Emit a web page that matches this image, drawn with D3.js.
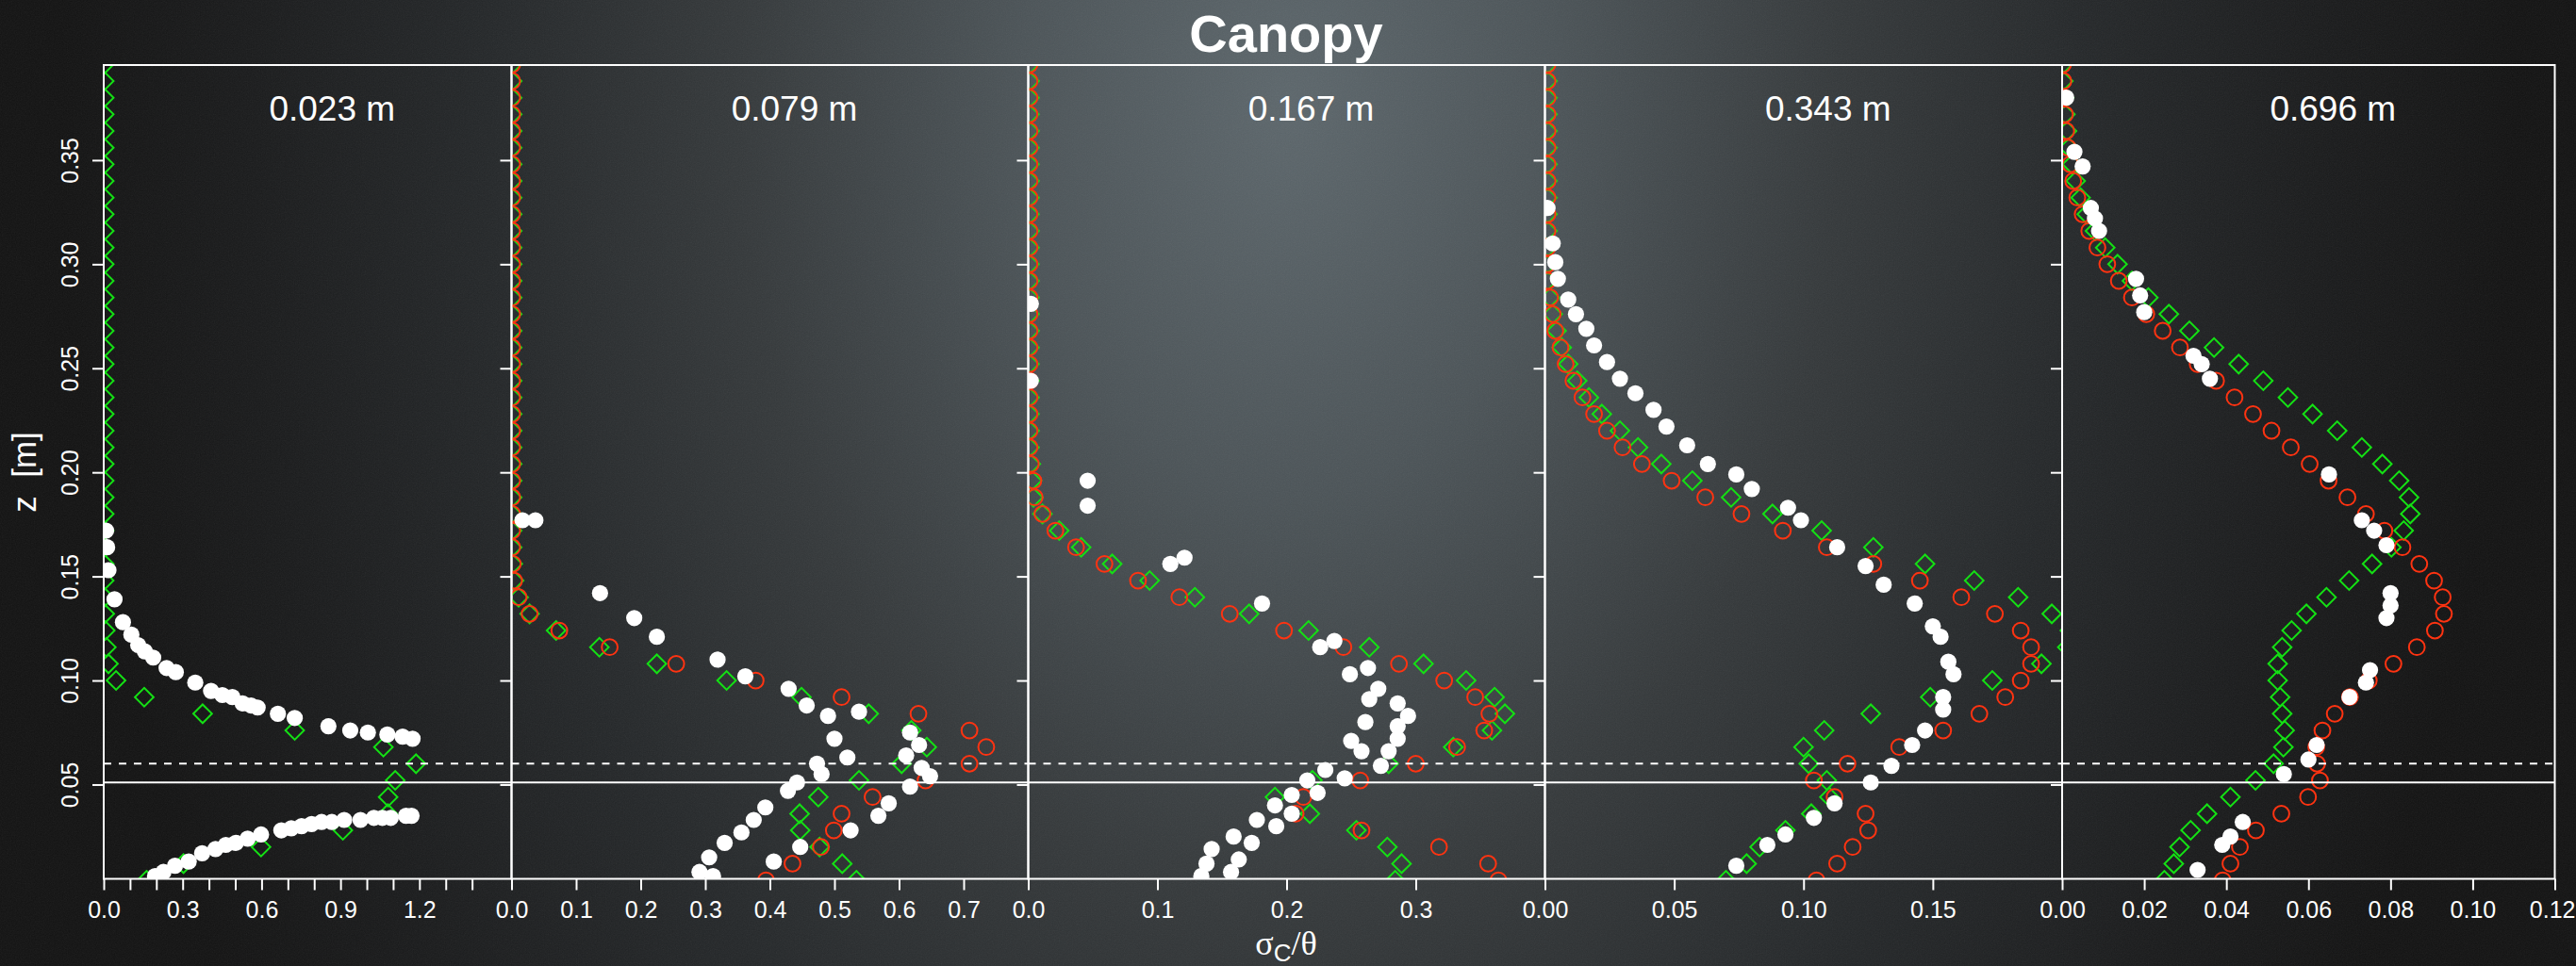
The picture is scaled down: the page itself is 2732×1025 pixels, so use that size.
<!DOCTYPE html>
<html>
<head>
<meta charset="utf-8">
<script src="https://d3js.org/d3.v7.min.js"></script>
<style>
  body { margin: 0; background: #131313; }
  svg { display: block; }
</style>
</head>
<body>
<div id="chart"></div>
<script>
// model heights (shared by both model series in every panel), m
var zGrid = [
  0.004, 0.012, 0.020, 0.028, 0.036, 0.044, 0.052, 0.060, 0.068, 0.076,
  0.084, 0.092, 0.100, 0.108, 0.116, 0.124, 0.132, 0.140, 0.148, 0.156,
  0.164, 0.172, 0.180, 0.188, 0.196, 0.204, 0.212, 0.220, 0.228, 0.236,
  0.244, 0.252, 0.260, 0.268, 0.276, 0.284, 0.292, 0.300, 0.308, 0.316,
  0.324, 0.332, 0.340, 0.348, 0.356, 0.364, 0.372, 0.380, 0.388, 0.396
];

var panelLabels = ["0.023 m", "0.079 m", "0.167 m", "0.343 m", "0.696 m"];
var xMax = [1.55, 0.8, 0.4, 0.2, 0.12];
var yTicks = [0.05, 0.10, 0.15, 0.20, 0.25, 0.30, 0.35];
var zSolid = 0.051, zDashed = 0.06;

var xTicks1 = [0, 0.1, 0.2, 0.3, 0.4, 0.5, 0.6, 0.7, 0.8, 0.9, 1.0, 1.1, 1.2, 1.3, 1.4];
var xLabels1 = [0, 0.3, 0.6, 0.9, 1.2];
var xTicks2 = [0, 0.1, 0.2, 0.3, 0.4, 0.5, 0.6, 0.7];
var xTicks3 = [0, 0.1, 0.2, 0.3];
var xTicks4 = [0, 0.05, 0.10, 0.15];
var xTicks5 = [0, 0.02, 0.04, 0.06, 0.08, 0.10, 0.12];

// model 1 (green diamonds), one value per zGrid entry
var green1 = [
  0.163, 0.303, 0.598, 0.909, 1.080, 1.081, 1.108, 1.187, 1.063, 0.726,
  0.376, 0.154, 0.047, 0.018, 0.010, 0.006, 0.004, 0.003, 0.002, 0.002,
  0.002, 0.002, 0.002, 0.002, 0.002, 0.002, 0.002, 0.002, 0.002, 0.002,
  0.002, 0.002, 0.002, 0.002, 0.002, 0.002, 0.002, 0.002, 0.002, 0.002,
  0.002, 0.002, 0.002, 0.002, 0.002, 0.002, 0.002, 0.002, 0.002, 0.002
];
var green2 = [
  0.534, 0.512, 0.477, 0.447, 0.446, 0.475, 0.538, 0.604, 0.643, 0.619,
  0.553, 0.449, 0.333, 0.225, 0.136, 0.069, 0.028, 0.011, 0.004, 0.002,
  0.001, 0.001, 0.001, 0.001, 0.001, 0.001, 0.001, 0.001, 0.001, 0.001,
  0.001, 0.001, 0.001, 0.001, 0.001, 0.001, 0.001, 0.001, 0.001, 0.001,
  0.001, 0.001, 0.001, 0.001, 0.001, 0.001, 0.001, 0.001, 0.001, 0.001
];
var green3 = [
  0.284, 0.289, 0.278, 0.254, 0.218, 0.191, 0.220, 0.279, 0.329, 0.359,
  0.369, 0.361, 0.339, 0.306, 0.264, 0.217, 0.171, 0.129, 0.094, 0.065,
  0.041, 0.024, 0.011, 0.004, 0.003, 0.002, 0.001, 0.001, 0.001, 0.001,
  0.001, 0.001, 0.001, 0.001, 0.001, 0.001, 0.001, 0.001, 0.001, 0.001,
  0.001, 0.001, 0.001, 0.001, 0.001, 0.001, 0.001, 0.001, 0.001, 0.001
];
var green4 = [
  0.070, 0.078, 0.083, 0.093, 0.103, 0.110, 0.109, 0.102, 0.100, 0.108,
  0.126, 0.149, 0.173, 0.192, 0.202, 0.203, 0.196, 0.183, 0.166, 0.147,
  0.127, 0.107, 0.088, 0.072, 0.057, 0.045, 0.036, 0.029, 0.022, 0.017,
  0.0125, 0.009, 0.0065, 0.0045, 0.003, 0.002, 0.001, 0.001, 0.001, 0.001,
  0.001, 0.001, 0.001, 0.001, 0.001, 0.001, 0.001, 0.001, 0.001, 0.001
];
var green5 = [
  0.0249, 0.0272, 0.0286, 0.0313, 0.0353, 0.0410, 0.0471, 0.0515, 0.0539, 0.0542,
  0.0536, 0.0531, 0.0525, 0.0525, 0.0536, 0.0559, 0.0595, 0.0644, 0.0699, 0.0755,
  0.0802, 0.0832, 0.0848, 0.0845, 0.0821, 0.0780, 0.0730, 0.0670, 0.0610, 0.0550,
  0.0490, 0.0430, 0.0370, 0.0310, 0.0260, 0.0210, 0.0170, 0.0135, 0.0105, 0.0080,
  0.0060, 0.0045, 0.0033, 0.0024, 0.0017, 0.0012, 0.0008, 0.0005, 0.0003, 0.0002
];

// model 2 (red circles), not shown in the first panel
var red1 = [];
var red2 = [
  0.394, 0.435, 0.479, 0.499, 0.511, 0.559, 0.641, 0.709, 0.735, 0.709,
  0.630, 0.511, 0.378, 0.255, 0.152, 0.074, 0.028, 0.011, 0.004, 0.002,
  0.001, 0.001, 0.001, 0.001, 0.001, 0.001, 0.001, 0.001, 0.001, 0.001,
  0.001, 0.001, 0.001, 0.001, 0.001, 0.001, 0.001, 0.001, 0.001, 0.001,
  0.001, 0.001, 0.001, 0.001, 0.001, 0.001, 0.001, 0.001, 0.001, 0.001
];
var red3 = [
  0.364, 0.356, 0.318, 0.258, 0.207, 0.213, 0.257, 0.300, 0.332, 0.353,
  0.357, 0.346, 0.322, 0.287, 0.244, 0.198, 0.156, 0.117, 0.085, 0.059,
  0.037, 0.021, 0.011, 0.005, 0.004, 0.002, 0.001, 0.001, 0.001, 0.001,
  0.001, 0.001, 0.001, 0.001, 0.001, 0.001, 0.001, 0.001, 0.001, 0.001,
  0.001, 0.001, 0.001, 0.001, 0.001, 0.001, 0.001, 0.001, 0.001, 0.001
];
var red4 = [
  0.105, 0.113, 0.119, 0.125, 0.124, 0.112, 0.104, 0.117, 0.137, 0.154,
  0.168, 0.178, 0.184, 0.188, 0.188, 0.184, 0.174, 0.161, 0.145, 0.127,
  0.109, 0.092, 0.076, 0.062, 0.049, 0.0375, 0.030, 0.024, 0.019, 0.0145,
  0.011, 0.008, 0.006, 0.004, 0.003, 0.002, 0.001, 0.001, 0.001, 0.001,
  0.001, 0.001, 0.001, 0.001, 0.001, 0.001, 0.001, 0.001, 0.001, 0.001
];
var red5 = [
  0.0391, 0.0410, 0.0433, 0.0472, 0.0534, 0.0599, 0.0628, 0.0621, 0.0619, 0.0634,
  0.0664, 0.0701, 0.0747, 0.0807, 0.0864, 0.0908, 0.0930, 0.0927, 0.0906, 0.0870,
  0.0829, 0.0785, 0.0740, 0.0695, 0.0649, 0.0603, 0.0557, 0.0510, 0.0465, 0.0420,
  0.0375, 0.0330, 0.0287, 0.0245, 0.0205, 0.0170, 0.0138, 0.0110, 0.0086, 0.0066,
  0.0050, 0.0037, 0.0027, 0.0020, 0.0014, 0.0010, 0.0007, 0.0005, 0.0003, 0.0002
];

// measurements (white dots)
var measX1 = [0.009, 0.013, 0.018, 0.041, 0.073, 0.105, 0.131, 0.156, 0.188, 0.239,
  0.274, 0.348, 0.408, 0.451, 0.489, 0.528, 0.560, 0.585, 0.662, 0.726,
  0.854, 0.937, 1.004, 1.078, 1.136, 1.174, 1.170, 1.149, 1.091, 1.059,
  1.027, 0.976, 0.914, 0.867, 0.828, 0.790, 0.752, 0.713, 0.675, 0.598,
  0.547, 0.502, 0.464, 0.425, 0.374, 0.323, 0.271, 0.227, 0.195];
var measZ1 = [0.172, 0.164, 0.153, 0.139, 0.128, 0.122, 0.117, 0.114, 0.111, 0.106,
  0.104, 0.099, 0.095, 0.093, 0.092, 0.089, 0.088, 0.087, 0.084, 0.082,
  0.078, 0.076, 0.075, 0.074, 0.073, 0.072, 0.035, 0.035, 0.034, 0.034,
  0.034, 0.033, 0.033, 0.032, 0.032, 0.031, 0.030, 0.029, 0.028, 0.026,
  0.024, 0.022, 0.021, 0.019, 0.017, 0.013, 0.011, 0.008, 0.006];

var measX2 = [0.017, 0.037, 0.137, 0.190, 0.225, 0.319, 0.362, 0.429, 0.457, 0.490,
  0.538, 0.617, 0.631, 0.611, 0.500, 0.520, 0.473, 0.480, 0.635, 0.648,
  0.442, 0.428, 0.617, 0.584, 0.568, 0.525, 0.447, 0.406, 0.393, 0.375,
  0.356, 0.330, 0.306, 0.291, 0.312];
var measZ2 = [0.177, 0.177, 0.142, 0.130, 0.121, 0.110, 0.102, 0.096, 0.088, 0.083,
  0.085, 0.075, 0.069, 0.064, 0.072, 0.063, 0.060, 0.055, 0.058, 0.054,
  0.051, 0.047, 0.049, 0.041, 0.035, 0.028, 0.020, 0.013, 0.039, 0.033,
  0.027, 0.022, 0.015, 0.008, 0.006];

var measX3 = [0.002, 0.002, 0.046, 0.046, 0.110, 0.121, 0.181, 0.226, 0.237, 0.249,
  0.263, 0.264, 0.271, 0.286, 0.294, 0.286, 0.261, 0.286, 0.250, 0.258,
  0.279, 0.273, 0.230, 0.245, 0.216, 0.224, 0.204, 0.191, 0.204, 0.192,
  0.177, 0.159, 0.173, 0.142, 0.163, 0.138, 0.157, 0.134];
var measZ3 = [0.281, 0.244, 0.196, 0.184, 0.156, 0.159, 0.137, 0.116, 0.119, 0.103,
  0.106, 0.091, 0.096, 0.089, 0.083, 0.078, 0.080, 0.072, 0.071, 0.066,
  0.066, 0.059, 0.057, 0.053, 0.052, 0.046, 0.045, 0.040, 0.036, 0.030,
  0.033, 0.025, 0.022, 0.019, 0.014, 0.012, 0.008, 0.006];

var measX4 = [0.001, 0.003, 0.004, 0.005, 0.009, 0.012, 0.016, 0.019, 0.024, 0.029,
  0.035, 0.042, 0.047, 0.055, 0.063, 0.074, 0.080, 0.094, 0.099, 0.113,
  0.124, 0.131, 0.143, 0.150, 0.153, 0.156, 0.158, 0.154, 0.154, 0.147,
  0.142, 0.134, 0.126, 0.112, 0.104, 0.093, 0.086, 0.074];
var measZ4 = [0.327, 0.310, 0.301, 0.293, 0.283, 0.276, 0.269, 0.261, 0.253, 0.245,
  0.238, 0.230, 0.222, 0.213, 0.204, 0.199, 0.192, 0.183, 0.177, 0.164,
  0.155, 0.146, 0.137, 0.126, 0.121, 0.109, 0.103, 0.092, 0.086, 0.076,
  0.069, 0.059, 0.051, 0.041, 0.034, 0.026, 0.021, 0.011];

var measX5 = [0.001, 0.003, 0.005, 0.007, 0.008, 0.009, 0.018, 0.019, 0.020, 0.032,
  0.034, 0.036, 0.065, 0.073, 0.076, 0.079, 0.080, 0.080, 0.079, 0.075,
  0.074, 0.070, 0.062, 0.060, 0.054, 0.044, 0.041, 0.039, 0.033];
var measZ5 = [0.380, 0.354, 0.347, 0.327, 0.322, 0.316, 0.293, 0.285, 0.277, 0.256,
  0.252, 0.245, 0.199, 0.177, 0.172, 0.165, 0.142, 0.136, 0.130, 0.105,
  0.099, 0.092, 0.069, 0.062, 0.055, 0.032, 0.025, 0.021, 0.009];

// ---- layout ----
var W = 2732, H = 1025;
var plotTop = 69, plotBottom = 932.5;
var panelEdges = [110, 542.5, 1090.5, 1638.5, 2187, 2709.5];
var FONT = "'Liberation Sans', Arial, Helvetica, sans-serif";
var GREEN = "#14e014", RED = "#ff3311";

var panels = [
  { green: green1, red: red1, mx: measX1, mz: measZ1, ticks: xTicks1, labels: xLabels1, fmt: ".1f" },
  { green: green2, red: red2, mx: measX2, mz: measZ2, ticks: xTicks2, labels: xTicks2, fmt: ".1f" },
  { green: green3, red: red3, mx: measX3, mz: measZ3, ticks: xTicks3, labels: xTicks3, fmt: ".1f" },
  { green: green4, red: red4, mx: measX4, mz: measZ4, ticks: xTicks4, labels: xTicks4, fmt: ".2f" },
  { green: green5, red: red5, mx: measX5, mz: measZ5, ticks: xTicks5, labels: xTicks5, fmt: ".2f" }
];

var svg = d3.select("#chart").append("svg").attr("width", W).attr("height", H);
var defs = svg.append("defs");

// dark radial background
var grad = defs.append("radialGradient")
  .attr("id", "bg")
  .attr("gradientUnits", "userSpaceOnUse")
  .attr("cx", 1366).attr("cy", 110).attr("r", 1300)
  .attr("gradientTransform", "translate(1366,110) scale(1,1.45) translate(-1366,-110)");
[[0, "#5d676c"], [0.22, "#4c5458"], [0.45, "#35393b"], [0.65, "#25282a"], [0.85, "#1a1b1c"], [1, "#131313"]]
  .forEach(function (s) {
    grad.append("stop").attr("offset", s[0]).attr("stop-color", s[1]);
  });
svg.append("rect").attr("width", W).attr("height", H).attr("fill", "url(#bg)");

var noise = defs.append("filter").attr("id", "grain").attr("x", 0).attr("y", 0).attr("width", 1).attr("height", 1);
noise.append("feTurbulence").attr("type", "fractalNoise").attr("baseFrequency", 0.8).attr("numOctaves", 2).attr("stitchTiles", "stitch");
noise.append("feColorMatrix").attr("type", "saturate").attr("values", 0);
svg.append("rect").attr("width", W).attr("height", H).attr("filter", "url(#grain)").attr("opacity", 0.07);

var y = d3.scaleLinear().domain([0.0047, 0.3957]).range([plotBottom, plotTop]);

var diamond = d3.symbol().type(d3.symbolSquare).size(195);

panels.forEach(function (p, i) {
  var x0 = panelEdges[i], x1 = panelEdges[i + 1];
  var x = d3.scaleLinear().domain([0, xMax[i]]).range([x0, x1]);

  defs.append("clipPath").attr("id", "clip" + i)
    .append("rect")
    .attr("x", x0).attr("y", plotTop)
    .attr("width", x1 - x0).attr("height", plotBottom - plotTop);

  var g = svg.append("g").attr("clip-path", "url(#clip" + i + ")");

  var greenPts = p.green.map(function (v, k) { return { x: v, z: zGrid[k] }; });
  var redPts = p.red.map(function (v, k) { return { x: v, z: zGrid[k] }; });
  var measPts = p.mx.map(function (v, k) { return { x: v, z: p.mz[k] }; });

  g.append("g").selectAll("path")
    .data(greenPts)
    .enter()
    .append("path")
    .attr("d", diamond)
    .attr("transform", function (d) {
      return "translate(" + x(d.x) + "," + y(d.z) + ") rotate(45)";
    })
    .attr("fill", "none")
    .attr("stroke", GREEN)
    .attr("stroke-width", 2);

  g.append("g").selectAll("circle")
    .data(redPts)
    .enter()
    .append("circle")
    .attr("cx", function (d) { return x(d.x); })
    .attr("cy", function (d) { return y(d.z); })
    .attr("r", 8.4)
    .attr("fill", "none")
    .attr("stroke", RED)
    .attr("stroke-width", 2);

  g.append("g").selectAll("circle")
    .data(measPts)
    .enter()
    .append("circle")
    .attr("cx", function (d) { return x(d.x); })
    .attr("cy", function (d) { return y(d.z); })
    .attr("r", 8.6)
    .attr("fill", "#ffffff");

  // canopy reference heights
  g.append("line")
    .attr("x1", x0).attr("x2", x1)
    .attr("y1", y(zSolid)).attr("y2", y(zSolid))
    .attr("stroke", "#fff").attr("stroke-width", 2);
  g.append("line")
    .attr("x1", x0).attr("x2", x1)
    .attr("y1", y(zDashed)).attr("y2", y(zDashed))
    .attr("stroke", "#fff").attr("stroke-width", 2)
    .attr("stroke-dasharray", "8,8");

  // box
  svg.append("rect")
    .attr("x", x0).attr("y", plotTop)
    .attr("width", x1 - x0).attr("height", plotBottom - plotTop)
    .attr("fill", "none").attr("stroke", "#fff").attr("stroke-width", 2);

  // x axis
  var fmt = d3.format(p.fmt);
  var xa = svg.append("g")
    .attr("transform", "translate(0," + plotBottom + ")")
    .call(d3.axisBottom(x).tickValues(p.ticks).tickSize(12)
      .tickFormat(function (d) { return p.labels.indexOf(d) >= 0 ? fmt(d) : ""; }))
    .attr("font-size", 25)
    .attr("font-family", FONT);
  xa.select(".domain").remove();
  xa.selectAll("line").attr("stroke", "#fff").attr("stroke-width", 2);
  xa.selectAll("text").attr("fill", "#fff").attr("y", 41.5).attr("dy", 0);
  // last label of the last panel sits on the page edge: keep it inside
  xa.selectAll("text")
    .filter(function (d) { return x(d) + 26 > W; })
    .attr("text-anchor", "end")
    .attr("x", function (d) { return W - 1 - x(d); });

  // y axis, labels only on the first panel
  var ya = svg.append("g")
    .attr("transform", "translate(" + x0 + ",0)")
    .call(d3.axisLeft(y).tickValues(yTicks).tickSize(12)
      .tickFormat(function (d) { return i === 0 ? d3.format(".2f")(d) : ""; }))
    .attr("font-size", 25)
    .attr("font-family", FONT);
  ya.select(".domain").remove();
  ya.selectAll("line").attr("stroke", "#fff").attr("stroke-width", 2);
  ya.selectAll("text")
    .attr("fill", "#fff")
    .attr("transform", "rotate(-90)")
    .attr("x", 0).attr("y", -27).attr("dy", 0)
    .attr("text-anchor", "middle");

  svg.append("text")
    .attr("x", (x0 + x1) / 2 + 26)
    .attr("y", 128)
    .attr("text-anchor", "middle")
    .attr("font-family", FONT)
    .attr("font-size", 37)
    .attr("fill", "#fff")
    .text(panelLabels[i]);
});

// titles
svg.append("text")
  .attr("x", 1364).attr("y", 55)
  .attr("text-anchor", "middle")
  .attr("font-family", FONT)
  .attr("font-weight", "bold")
  .attr("font-size", 56)
  .attr("fill", "#fff")
  .text("Canopy");

svg.append("text")
  .attr("transform", "translate(37.5,501) rotate(-90)")
  .attr("text-anchor", "middle")
  .attr("font-family", FONT)
  .attr("font-size", 35)
  .attr("fill", "#fff")
  .style("white-space", "pre")
  .text("z  [m]");

var xl = svg.append("text")
  .attr("x", 1364).attr("y", 1013)
  .attr("text-anchor", "middle")
  .attr("font-family", "'Liberation Serif', 'DejaVu Serif', serif")
  .attr("font-size", 36)
  .attr("fill", "#fff");
xl.append("tspan").text("σ");
xl.append("tspan").attr("font-family", FONT).attr("font-size", 26).attr("dy", 7).text("C");
xl.append("tspan").attr("dy", -7).text("/θ");
</script>
</body>
</html>
